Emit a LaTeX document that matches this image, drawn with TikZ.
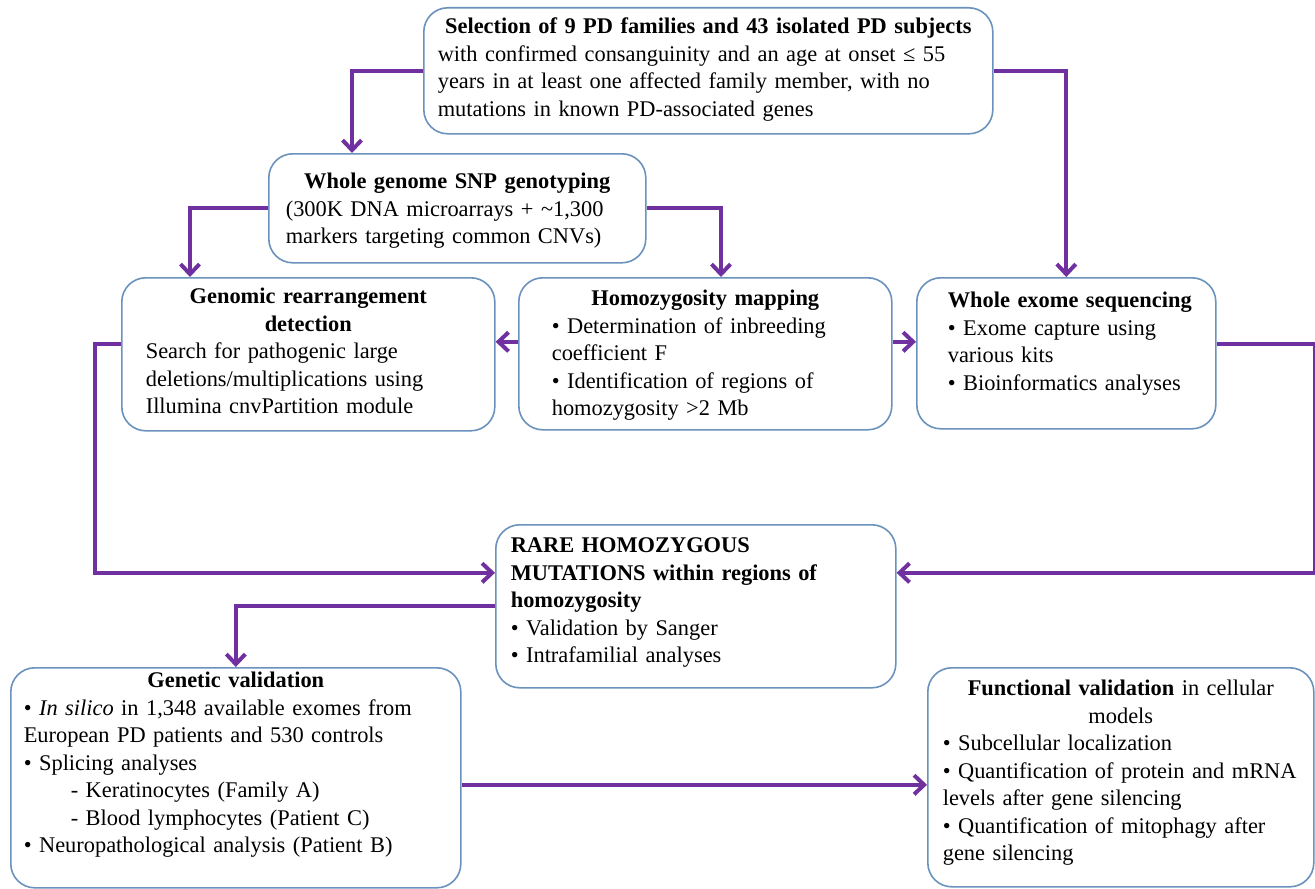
\documentclass[tikz,border=0pt]{standalone}
\usepackage{fontspec}
\setmainfont{Liberation Serif}
\usepackage{xcolor}
\usepackage{tikz}
\usetikzlibrary{arrows.meta,positioning,calc}

\definecolor{boxblue}{HTML}{6A92BC}
\definecolor{flowpurple}{HTML}{7030A0}
\newcommand{\boxhead}[1]{\makebox[\linewidth]{\textbf{#1}}}

\begin{document}
\begin{tikzpicture}[
  x=0.5pt, y=-0.5pt,
  box/.style={draw=boxblue, line width=0.8pt, rounded corners=12pt, anchor=north west,
    align=left, inner ysep=0pt, font=\fontsize{11.2}{13.75}\selectfont},
  arrow/.style={-{Straight Barb[length=5pt,width=9.5pt]}, draw=flowpurple, line width=2pt}
]
\useasboundingbox (0,0) rectangle (1315,888);

% boxes (pixel grid of the figure)
\node[box, inner xsep=7pt, text width=270.5pt, text height=13pt, text depth=50pt] (sel) at (423,7)
  {\boxhead{Selection of 9 PD families and 43 isolated PD subjects}\\
   with confirmed consanguinity and an age at onset ≤ 55\\
   years in at least one affected family member, with no\\
   mutations in known PD-associated genes};
\node[box, inner xsep=8.5pt, text width=171.5pt, text height=17.5pt, text depth=37pt] (snp) at (268,153)
  {\boxhead{Whole genome SNP genotyping}\\
   (300K DNA microarrays + \textasciitilde1,300\\
   markers targeting common CNVs)};
\node[box, inner xsep=12pt, text width=162.5pt, text height=13pt, text depth=63.5pt] (cnv) at (121,277)
  {\boxhead{Genomic rearrangement}\\
   \boxhead{detection}\\
   Search for pathogenic large\\
   deletions/multiplications using\\
   Illumina cnvPartition module};
\node[box, inner xsep=16.5pt, text width=153.5pt, text height=14pt, text depth=62pt] (homo) at (518,277)
  {\boxhead{Homozygosity mapping}\\
   • Determination of inbreeding\\
   coefficient F\\
   • Identification of regions of\\
   homozygosity >2 Mb};
\node[box, inner xsep=15.5pt, text width=118.5pt, text height=15pt, text depth=60.5pt] (wes) at (916,277)
  {\makebox[\linewidth][l]{\textbf{Whole exome sequencing}}\\
   • Exome capture using\\
   various kits\\
   • Bioinformatics analyses};
\node[box, inner xsep=7.5pt, text width=185pt, text height=14pt, text depth=67.5pt] (rare) at (495,524)
  {\textbf{RARE HOMOZYGOUS}\\
   \textbf{MUTATIONS within regions of}\\
   \textbf{homozygosity}\\
   • Validation by Sanger\\
   • Intrafamilial analyses};
\node[box, inner xsep=6.5pt, text width=212pt, text height=10pt, text depth=100pt] (genval) at (10,667)
  {\boxhead{Genetic validation}\\
   • \textit{In silico} in 1,348 available exomes from\\
   European PD patients and 530 controls\\
   • Splicing analyses\\
   \hspace*{23.5pt}- Keratinocytes (Family A)\\
   \hspace*{23.5pt}- Blood lymphocytes (Patient C)\\
   • Neuropathological analysis (Patient B)};
\node[box, inner xsep=7.5pt, text width=178pt, text height=14pt, text depth=95.5pt] (funval) at (927,667)
  {\makebox[\linewidth]{\textbf{Functional validation} in cellular}\\
   \makebox[\linewidth]{models}\\
   • Subcellular localization\\
   • Quantification of protein and mRNA\\
   levels after gene silencing\\
   • Quantification of mitophagy after\\
   gene silencing};

% connectors
\draw[arrow] (sel.west) -| ([xshift=42pt]snp.north west);
\draw[arrow] (sel.east) -| (wes.north);
\draw[arrow] (snp.west) -| ([xshift=34.5pt]cnv.north west);
\draw[arrow] (snp.east) -| ([xshift=101.5pt]homo.north west);
\draw[arrow] ([yshift=6pt]homo.west) -- ([yshift=6pt]homo.west -| cnv.east);
\draw[arrow] ([yshift=6pt]homo.east) -- ([yshift=6pt]homo.east -| wes.west);
\draw[arrow] ([yshift=5pt]cnv.west) -- ++(-13pt,0) |- ([yshift=16.75pt]rare.west);
\draw[arrow] ([yshift=4.75pt]wes.east) -- ++(49pt,0) |- ([yshift=16.75pt]rare.east);
\draw[arrow] (rare.west) -| (genval.north);
\draw[arrow] ([yshift=-3.5pt]genval.east) -- ([yshift=-3.5pt]genval.east -| funval.west);
\end{tikzpicture}
\end{document}
